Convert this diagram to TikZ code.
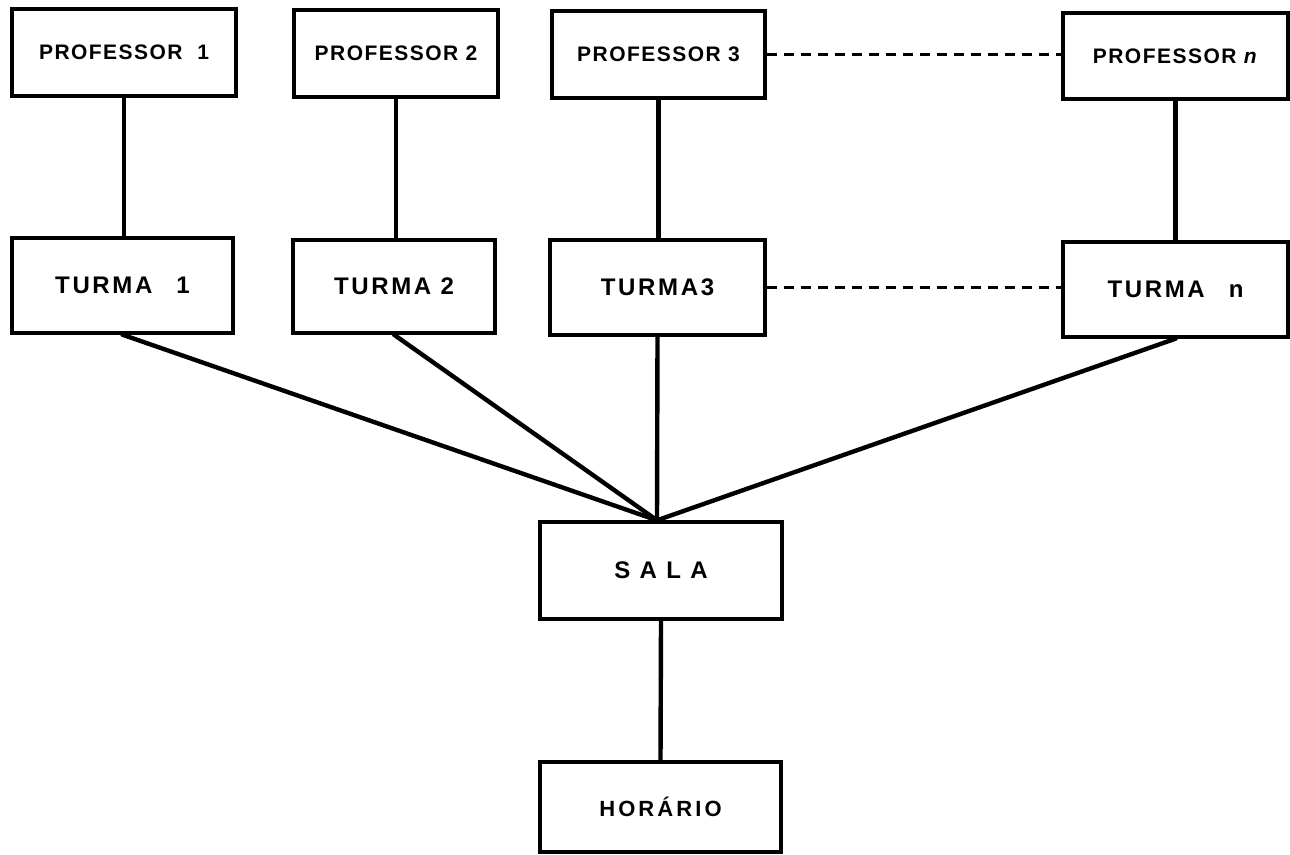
\documentclass[tikz,border=0pt]{standalone}
\usepackage{fontspec}
\setmainfont{Liberation Sans}
\usetikzlibrary{calc}
\begin{document}
\begin{tikzpicture}[x=1pt,y=-1pt,
  box/.style={draw,line width=3.4pt,rectangle,inner sep=0pt,
    font=\bfseries\fontsize{21}{21}\selectfont\addfontfeatures{LetterSpace=7}},
  tbox/.style={box,font=\bfseries\fontsize{24}{24}\selectfont\addfontfeatures{LetterSpace=11}},
  link/.style={line width=4.4pt,line cap=round},
  dotlink/.style={line width=2.6pt,dash pattern=on 10pt off 7pt}]
  \useasboundingbox (0,0) rectangle (1290,854);

  % professors
  \node[box,minimum width=224,minimum height=87] (p1) at (124,52.5) {PROFESSOR\ \ 1};
  \node[box,minimum width=204,minimum height=87] (p2) at (396,53.5) {PROFESSOR 2};
  \node[box,minimum width=213,minimum height=87] (p3) at (658.5,54.5) {PROFESSOR 3};
  \node[box,minimum width=225,minimum height=86] (pn) at (1175.5,56) {PROFESSOR \textit{n}};

  % classes
  \node[tbox,minimum width=221,minimum height=95] (t1) at (122.5,285.5) {TURMA\quad 1};
  \node[tbox,minimum width=202,minimum height=93] (t2) at (394,286.5) {TURMA 2};
  \node[tbox,minimum width=215,minimum height=95] (t3) at (657.5,287.5) {TURMA3};
  \node[tbox,minimum width=225,minimum height=95] (tn) at (1175.5,289.5) {TURMA\quad n};

  % room and timetable
  \node[tbox,minimum width=242,minimum height=97] (sala) at (661,570.5) {S A L A};
  \node[box,minimum width=241,minimum height=90,
    font=\bfseries\fontsize{22}{22}\selectfont\addfontfeatures{LetterSpace=14}]
    (hor) at (660.5,807) {HORÁRIO};

  \coordinate (join) at ($(sala.north)+(-4,0)$);

  % professor -> class
  \foreach \a/\b in {p1/t1,p2/t2,p3/t3,pn/tn}
    \draw[link] (\a.south) -- (\a.south |- \b.north);

  % classes -> room
  \foreach \a in {t1,t2,t3,tn}
    \draw[link] (\a.south) -- (join);

  % room -> timetable
  \draw[link] (sala.south) -- (hor.north);

  % elided members
  \draw[dotlink] (p3.east) -- (p3.east -| pn.west);
  \draw[dotlink] (t3.east) -- (t3.east -| tn.west);
\end{tikzpicture}
\end{document}
